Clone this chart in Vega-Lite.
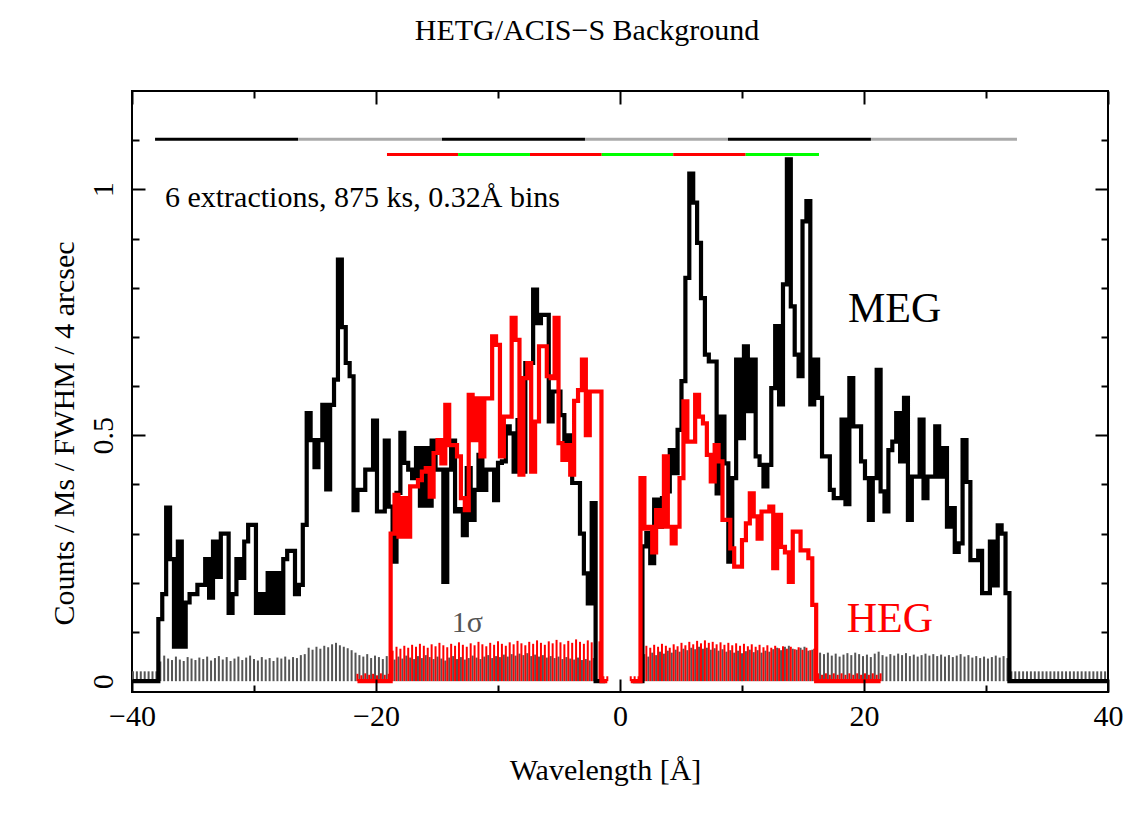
{
"$schema":"https://vega.github.io/schema/vega-lite/v6.json",
"width":976,"height":601,
"autosize":"none",
"padding":{"left":132,"top":91,"right":36,"bottom":128},
"background":"white",
"config":{"view":{"stroke":"black","strokeWidth":2},"font":"Liberation Serif"},
"title":{"text":"HETG/ACIS−S Background","font":"Liberation Serif","fontSize":30,"fontWeight":"normal","color":"black","anchor":"middle","frame":"group","dx":-33,"offset":20,"baseline":"alphabetic"},
"datasets":{
"meg":[
{"x":-39.92,"v":0,"s":0.02,"g":"L"},{"x":-39.6,"v":0,"s":0.02,"g":"L"},{"x":-39.28,"v":0,"s":0.02,"g":"L"},{"x":-38.96,"v":0,"s":0.02,"g":"L"},{"x":-38.64,"v":0,"s":0.02,"g":"L"},{"x":-38.32,"v":0,"s":0.02,"g":"L"},{"x":-38,"v":0,"s":0.02,"g":"L"},
{"x":-37.68,"v":0.126,"s":0.04,"g":"L"},{"x":-37.36,"v":0.177,"s":0.052,"g":"L"},{"x":-37.04,"v":0.353,"s":0.046,"g":"L"},{"x":-36.72,"v":0.248,"s":0.043,"g":"L"},{"x":-36.4,"v":0.07,"s":0.05,"g":"L"},{"x":-36.08,"v":0.284,"s":0.044,"g":"L"},{"x":-35.76,"v":0.07,"s":0.041,"g":"L"},{"x":-35.44,"v":0.16,"s":0.049,"g":"L"},{"x":-35.12,"v":0.177,"s":0.046,"g":"L"},{"x":-34.8,"v":0.177,"s":0.043,"g":"L"},
{"x":-34.48,"v":0.196,"s":0.048,"g":"L"},{"x":-34.16,"v":0.196,"s":0.045,"g":"L"},{"x":-33.84,"v":0.248,"s":0.05,"g":"L"},{"x":-33.52,"v":0.17,"s":0.042,"g":"L"},{"x":-33.2,"v":0.284,"s":0.047,"g":"L"},{"x":-32.88,"v":0.212,"s":0.051,"g":"L"},{"x":-32.56,"v":0.3,"s":0.044,"g":"L"},{"x":-32.24,"v":0.3,"s":0.049,"g":"L"},{"x":-31.92,"v":0.139,"s":0.041,"g":"L"},{"x":-31.6,"v":0.177,"s":0.046,"g":"L"},
{"x":-31.28,"v":0.248,"s":0.05,"g":"L"},{"x":-30.96,"v":0.21,"s":0.043,"g":"L"},{"x":-30.64,"v":0.284,"s":0.048,"g":"L"},{"x":-30.32,"v":0.318,"s":0.052,"g":"L"},{"x":-30,"v":0.318,"s":0.045,"g":"L"},{"x":-29.68,"v":0.139,"s":0.042,"g":"L"},{"x":-29.36,"v":0.177,"s":0.049,"g":"L"},{"x":-29.04,"v":0.139,"s":0.044,"g":"L"},{"x":-28.72,"v":0.22,"s":0.047,"g":"L"},{"x":-28.4,"v":0.139,"s":0.041,"g":"L"},
{"x":-28.08,"v":0.22,"s":0.048,"g":"L"},{"x":-27.76,"v":0.139,"s":0.046,"g":"L"},{"x":-27.44,"v":0.248,"s":0.05,"g":"L"},{"x":-27.12,"v":0.265,"s":0.044,"g":"L"},{"x":-26.8,"v":0.265,"s":0.049,"g":"L"},{"x":-26.48,"v":0.177,"s":0.047,"g":"L"},{"x":-26.16,"v":0.196,"s":0.053,"g":"L"},{"x":-25.84,"v":0.318,"s":0.055,"g":"L"},{"x":-25.52,"v":0.545,"s":0.068,"g":"L"},{"x":-25.2,"v":0.49,"s":0.064,"g":"L"},
{"x":-24.88,"v":0.435,"s":0.07,"g":"L"},{"x":-24.56,"v":0.49,"s":0.066,"g":"L"},{"x":-24.24,"v":0.562,"s":0.072,"g":"L"},{"x":-23.92,"v":0.39,"s":0.069,"g":"L"},{"x":-23.6,"v":0.562,"s":0.075,"g":"L"},{"x":-23.28,"v":0.613,"s":0.078,"g":"L"},{"x":-22.96,"v":0.857,"s":0.073,"g":"L"},{"x":-22.64,"v":0.72,"s":0.07,"g":"L"},{"x":-22.32,"v":0.647,"s":0.067,"g":"L"},{"x":-22,"v":0.62,"s":0.063,"g":"L"},
{"x":-21.68,"v":0.348,"s":0.058,"g":"L"},{"x":-21.36,"v":0.389,"s":0.053,"g":"L"},{"x":-21.04,"v":0.389,"s":0.05,"g":"L"},{"x":-20.72,"v":0.43,"s":0.055,"g":"L"},{"x":-20.4,"v":0.43,"s":0.047,"g":"L"},{"x":-20.08,"v":0.53,"s":0.052,"g":"L"},{"x":-19.76,"v":0.345,"s":0.049,"g":"L"},{"x":-19.44,"v":0.345,"s":0.045,"g":"L"},{"x":-19.12,"v":0.489,"s":0.051,"g":"L"},{"x":-18.8,"v":0.355,"s":0.048,"g":"L"},
{"x":-18.48,"v":0.243,"s":0.044,"g":"L"},{"x":-18.16,"v":0.383,"s":0.05,"g":"L"},{"x":-17.84,"v":0.505,"s":0.046,"g":"L"},{"x":-17.52,"v":0.444,"s":0.052,"g":"L"},{"x":-17.2,"v":0.43,"s":0.048,"g":"L"},{"x":-16.88,"v":0.413,"s":0.045,"g":"L"},{"x":-16.56,"v":0.474,"s":0.051,"g":"L"},{"x":-16.24,"v":0.357,"s":0.047,"g":"L"},{"x":-15.92,"v":0.474,"s":0.053,"g":"L"},{"x":-15.6,"v":0.357,"s":0.049,"g":"L"},
{"x":-15.28,"v":0.489,"s":0.045,"g":"L"},{"x":-14.96,"v":0.43,"s":0.05,"g":"L"},{"x":-14.64,"v":0.43,"s":0.046,"g":"L"},{"x":-14.32,"v":0.202,"s":0.042,"g":"L"},{"x":-14,"v":0.43,"s":0.048,"g":"L"},{"x":-13.68,"v":0.489,"s":0.051,"g":"L"},{"x":-13.36,"v":0.345,"s":0.045,"g":"L"},{"x":-13.04,"v":0.35,"s":0.049,"g":"L"},{"x":-12.72,"v":0.297,"s":0.044,"g":"L"},{"x":-12.4,"v":0.433,"s":0.047,"g":"L"},
{"x":-12.08,"v":0.328,"s":0.052,"g":"L"},{"x":-11.76,"v":0.389,"s":0.048,"g":"L"},{"x":-11.44,"v":0.46,"s":0.045,"g":"L"},{"x":-11.12,"v":0.389,"s":0.05,"g":"L"},{"x":-10.8,"v":0.43,"s":0.053,"g":"L"},{"x":-10.48,"v":0.43,"s":0.047,"g":"L"},{"x":-10.16,"v":0.368,"s":0.051,"g":"L"},{"x":-9.84,"v":0.444,"s":0.049,"g":"L"},{"x":-9.52,"v":0.447,"s":0.054,"g":"L"},{"x":-9.2,"v":0.518,"s":0.05,"g":"L"},
{"x":-8.88,"v":0.504,"s":0.055,"g":"L"},{"x":-8.56,"v":0.426,"s":0.052,"g":"L"},{"x":-8.24,"v":0.531,"s":0.056,"g":"L"},{"x":-7.92,"v":0.426,"s":0.053,"g":"L"},{"x":-7.6,"v":0.647,"s":0.057,"g":"L"},{"x":-7.28,"v":0.647,"s":0.051,"g":"L"},{"x":-6.96,"v":0.796,"s":0.054,"g":"L"},{"x":-6.64,"v":0.728,"s":0.05,"g":"L"},{"x":-6.32,"v":0.745,"s":0.053,"g":"L"},{"x":-6,"v":0.745,"s":0.048,"g":"L"},
{"x":-5.68,"v":0.528,"s":0.051,"g":"L"},{"x":-5.36,"v":0.589,"s":0.047,"g":"L"},{"x":-5.04,"v":0.589,"s":0.05,"g":"L"},{"x":-4.72,"v":0.541,"s":0.045,"g":"L"},{"x":-4.4,"v":0.484,"s":0.049,"g":"L"},{"x":-4.08,"v":0.5,"s":0.046,"g":"L"},{"x":-3.76,"v":0.403,"s":0.044,"g":"L"},{"x":-3.44,"v":0.403,"s":0.048,"g":"L"},{"x":-3.12,"v":0.3,"s":0.043,"g":"L"},{"x":-2.8,"v":0.219,"s":0.045,"g":"L"},
{"x":-2.48,"v":0.158,"s":0.042,"g":"L"},{"x":-2.16,"v":0.362,"s":0.047,"g":"L"},
{"x":-1.84,"v":0,"s":0,"g":"L"},{"x":-1.52,"v":0,"s":0,"g":"L"},{"x":-1.2,"v":0,"s":0,"g":"L"},
{"x":1.04,"v":0,"s":0,"g":"R"},{"x":1.36,"v":0,"s":0,"g":"R"},{"x":1.68,"v":0,"s":0,"g":"R"},
{"x":2,"v":0.274,"s":0.055,"g":"R"},{"x":2.32,"v":0.301,"s":0.05,"g":"R"},{"x":2.64,"v":0.24,"s":0.058,"g":"R"},{"x":2.96,"v":0.369,"s":0.053,"g":"R"},{"x":3.28,"v":0.314,"s":0.06,"g":"R"},{"x":3.6,"v":0.372,"s":0.056,"g":"R"},{"x":3.92,"v":0.386,"s":0.062,"g":"R"},{"x":4.24,"v":0.47,"s":0.058,"g":"R"},{"x":4.56,"v":0.423,"s":0.064,"g":"R"},{"x":4.88,"v":0.511,"s":0.06,"g":"R"},
{"x":5.2,"v":0.61,"s":0.066,"g":"R"},{"x":5.52,"v":0.82,"s":0.063,"g":"R"},{"x":5.84,"v":1.032,"s":0.068,"g":"R"},{"x":6.16,"v":0.973,"s":0.065,"g":"R"},{"x":6.48,"v":0.891,"s":0.07,"g":"R"},{"x":6.8,"v":0.779,"s":0.066,"g":"R"},{"x":7.12,"v":0.664,"s":0.068,"g":"R"},{"x":7.44,"v":0.65,"s":0.064,"g":"R"},{"x":7.76,"v":0.65,"s":0.067,"g":"R"},{"x":8.08,"v":0.382,"s":0.062,"g":"R"},
{"x":8.4,"v":0.538,"s":0.065,"g":"R"},{"x":8.72,"v":0.443,"s":0.06,"g":"R"},{"x":9.04,"v":0.243,"s":0.063,"g":"R"},{"x":9.36,"v":0.413,"s":0.058,"g":"R"},{"x":9.68,"v":0.654,"s":0.062,"g":"R"},{"x":10,"v":0.494,"s":0.057,"g":"R"},{"x":10.32,"v":0.681,"s":0.061,"g":"R"},{"x":10.64,"v":0.549,"s":0.064,"g":"R"},{"x":10.96,"v":0.654,"s":0.059,"g":"R"},{"x":11.28,"v":0.457,"s":0.063,"g":"R"},
{"x":11.6,"v":0.44,"s":0.058,"g":"R"},{"x":11.92,"v":0.396,"s":0.062,"g":"R"},{"x":12.24,"v":0.44,"s":0.06,"g":"R"},{"x":12.56,"v":0.596,"s":0.065,"g":"R"},{"x":12.88,"v":0.722,"s":0.068,"g":"R"},{"x":13.2,"v":0.563,"s":0.063,"g":"R"},{"x":13.52,"v":0.807,"s":0.07,"g":"R"},{"x":13.84,"v":1.061,"s":0.072,"g":"R"},{"x":14.16,"v":0.762,"s":0.066,"g":"R"},{"x":14.48,"v":0.664,"s":0.064,"g":"R"},
{"x":14.8,"v":0.62,"s":0.068,"g":"R"},{"x":15.12,"v":0.935,"s":0.07,"g":"R"},{"x":15.44,"v":0.976,"s":0.062,"g":"R"},{"x":15.76,"v":0.563,"s":0.064,"g":"R"},{"x":16.08,"v":0.654,"s":0.06,"g":"R"},{"x":16.4,"v":0.576,"s":0.058,"g":"R"},{"x":16.72,"v":0.457,"s":0.055,"g":"R"},{"x":17.04,"v":0.457,"s":0.058,"g":"R"},{"x":17.36,"v":0.389,"s":0.052,"g":"R"},{"x":17.68,"v":0.372,"s":0.056,"g":"R"},
{"x":18,"v":0.372,"s":0.05,"g":"R"},{"x":18.32,"v":0.532,"s":0.054,"g":"R"},{"x":18.64,"v":0.36,"s":0.057,"g":"R"},{"x":18.96,"v":0.616,"s":0.053,"g":"R"},{"x":19.28,"v":0.518,"s":0.058,"g":"R"},{"x":19.6,"v":0.518,"s":0.055,"g":"R"},{"x":19.92,"v":0.447,"s":0.051,"g":"R"},{"x":20.24,"v":0.413,"s":0.054,"g":"R"},{"x":20.56,"v":0.328,"s":0.049,"g":"R"},{"x":20.88,"v":0.413,"s":0.056,"g":"R"},
{"x":21.2,"v":0.633,"s":0.06,"g":"R"},{"x":21.52,"v":0.386,"s":0.053,"g":"R"},{"x":21.84,"v":0.345,"s":0.05,"g":"R"},{"x":22.16,"v":0.47,"s":0.055,"g":"R"},{"x":22.48,"v":0.487,"s":0.052,"g":"R"},{"x":22.8,"v":0.545,"s":0.056,"g":"R"},{"x":23.12,"v":0.447,"s":0.053,"g":"R"},{"x":23.44,"v":0.576,"s":0.057,"g":"R"},{"x":23.76,"v":0.328,"s":0.051,"g":"R"},{"x":24.08,"v":0.416,"s":0.054,"g":"R"},
{"x":24.4,"v":0.416,"s":0.05,"g":"R"},{"x":24.72,"v":0.532,"s":0.053,"g":"R"},{"x":25.04,"v":0.372,"s":0.056,"g":"R"},{"x":25.36,"v":0.416,"s":0.052,"g":"R"},{"x":25.68,"v":0.416,"s":0.055,"g":"R"},{"x":26,"v":0.518,"s":0.051,"g":"R"},{"x":26.32,"v":0.416,"s":0.054,"g":"R"},{"x":26.64,"v":0.474,"s":0.05,"g":"R"},{"x":26.96,"v":0.314,"s":0.053,"g":"R"},{"x":27.28,"v":0.352,"s":0.049,"g":"R"},
{"x":27.6,"v":0.263,"s":0.052,"g":"R"},{"x":27.92,"v":0.28,"s":0.055,"g":"R"},{"x":28.24,"v":0.49,"s":0.05,"g":"R"},{"x":28.56,"v":0.405,"s":0.053,"g":"R"},{"x":28.88,"v":0.246,"s":0.048,"g":"R"},{"x":29.2,"v":0.246,"s":0.051,"g":"R"},{"x":29.52,"v":0.265,"s":0.047,"g":"R"},{"x":29.84,"v":0.179,"s":0.05,"g":"R"},{"x":30.16,"v":0.179,"s":0.046,"g":"R"},{"x":30.48,"v":0.284,"s":0.049,"g":"R"},
{"x":30.8,"v":0.195,"s":0.052,"g":"R"},{"x":31.12,"v":0.317,"s":0.048,"g":"R"},{"x":31.44,"v":0.3,"s":0.051,"g":"R"},{"x":31.76,"v":0.179,"s":0.047,"g":"R"},
{"x":32.08,"v":0,"s":0.02,"g":"R"},{"x":32.4,"v":0,"s":0.02,"g":"R"},{"x":32.72,"v":0,"s":0.02,"g":"R"},{"x":33.04,"v":0,"s":0.02,"g":"R"},{"x":33.36,"v":0,"s":0.02,"g":"R"},{"x":33.68,"v":0,"s":0.02,"g":"R"},{"x":34,"v":0,"s":0.02,"g":"R"},{"x":34.32,"v":0,"s":0.02,"g":"R"},{"x":34.64,"v":0,"s":0.02,"g":"R"},{"x":34.96,"v":0,"s":0.02,"g":"R"},{"x":35.28,"v":0,"s":0.02,"g":"R"},{"x":35.6,"v":0,"s":0.02,"g":"R"},{"x":35.92,"v":0,"s":0.02,"g":"R"},
{"x":36.24,"v":0,"s":0.02,"g":"R"},{"x":36.56,"v":0,"s":0.02,"g":"R"},{"x":36.88,"v":0,"s":0.02,"g":"R"},{"x":37.2,"v":0,"s":0.02,"g":"R"},{"x":37.52,"v":0,"s":0.02,"g":"R"},{"x":37.84,"v":0,"s":0.02,"g":"R"},{"x":38.16,"v":0,"s":0.02,"g":"R"},{"x":38.48,"v":0,"s":0.02,"g":"R"},{"x":38.8,"v":0,"s":0.02,"g":"R"},{"x":39.12,"v":0,"s":0.02,"g":"R"},{"x":39.44,"v":0,"s":0.02,"g":"R"},{"x":39.76,"v":0,"s":0.02,"g":"R"},{"x":40.08,"v":0,"s":0.02,"g":"R"}
],
"heg":[
{"x":-21.52,"v":0,"s":0.015,"g":"L"},{"x":-21.2,"v":0,"s":0.012,"g":"L"},{"x":-20.88,"v":0,"s":0.016,"g":"L"},{"x":-20.56,"v":0,"s":0.013,"g":"L"},{"x":-20.24,"v":0,"s":0.015,"g":"L"},{"x":-19.92,"v":0,"s":0.012,"g":"L"},{"x":-19.6,"v":0,"s":0.016,"g":"L"},{"x":-19.28,"v":0,"s":0.013,"g":"L"},{"x":-18.96,"v":0,"s":0.015,"g":"L"},
{"x":-18.64,"v":0.3,"s":0.062,"g":"L"},{"x":-18.32,"v":0.379,"s":0.07,"g":"L"},{"x":-18,"v":0.294,"s":0.066,"g":"L"},{"x":-17.68,"v":0.372,"s":0.072,"g":"L"},{"x":-17.36,"v":0.294,"s":0.068,"g":"L"},{"x":-17.04,"v":0.396,"s":0.074,"g":"L"},{"x":-16.72,"v":0.396,"s":0.07,"g":"L"},{"x":-16.4,"v":0.409,"s":0.076,"g":"L"},{"x":-16.08,"v":0.426,"s":0.072,"g":"L"},{"x":-15.76,"v":0.433,"s":0.068,"g":"L"},
{"x":-15.44,"v":0.375,"s":0.075,"g":"L"},{"x":-15.12,"v":0.464,"s":0.071,"g":"L"},{"x":-14.8,"v":0.49,"s":0.078,"g":"L"},{"x":-14.48,"v":0.443,"s":0.073,"g":"L"},{"x":-14.16,"v":0.562,"s":0.069,"g":"L"},{"x":-13.84,"v":0.48,"s":0.076,"g":"L"},{"x":-13.52,"v":0.48,"s":0.072,"g":"L"},{"x":-13.2,"v":0.457,"s":0.079,"g":"L"},{"x":-12.88,"v":0.372,"s":0.074,"g":"L"},{"x":-12.56,"v":0.348,"s":0.07,"g":"L"},
{"x":-12.24,"v":0.582,"s":0.077,"g":"L"},{"x":-11.92,"v":0.49,"s":0.073,"g":"L"},{"x":-11.6,"v":0.575,"s":0.08,"g":"L"},{"x":-11.28,"v":0.457,"s":0.075,"g":"L"},{"x":-10.96,"v":0.575,"s":0.071,"g":"L"},{"x":-10.64,"v":0.575,"s":0.078,"g":"L"},{"x":-10.32,"v":0.701,"s":0.074,"g":"L"},{"x":-10,"v":0.684,"s":0.081,"g":"L"},{"x":-9.68,"v":0.457,"s":0.076,"g":"L"},{"x":-9.36,"v":0.538,"s":0.072,"g":"L"},
{"x":-9.04,"v":0.538,"s":0.079,"g":"L"},{"x":-8.72,"v":0.739,"s":0.075,"g":"L"},{"x":-8.4,"v":0.694,"s":0.082,"g":"L"},{"x":-8.08,"v":0.42,"s":0.077,"g":"L"},{"x":-7.76,"v":0.616,"s":0.073,"g":"L"},{"x":-7.44,"v":0.647,"s":0.08,"g":"L"},{"x":-7.12,"v":0.426,"s":0.076,"g":"L"},{"x":-6.8,"v":0.528,"s":0.083,"g":"L"},{"x":-6.48,"v":0.681,"s":0.078,"g":"L"},{"x":-6.16,"v":0.681,"s":0.074,"g":"L"},
{"x":-5.84,"v":0.62,"s":0.081,"g":"L"},{"x":-5.52,"v":0.616,"s":0.077,"g":"L"},{"x":-5.2,"v":0.739,"s":0.084,"g":"L"},{"x":-4.88,"v":0.484,"s":0.079,"g":"L"},{"x":-4.56,"v":0.45,"s":0.075,"g":"L"},{"x":-4.24,"v":0.48,"s":0.082,"g":"L"},{"x":-3.92,"v":0.42,"s":0.078,"g":"L"},{"x":-3.6,"v":0.57,"s":0.085,"g":"L"},{"x":-3.28,"v":0.592,"s":0.08,"g":"L"},{"x":-2.96,"v":0.654,"s":0.076,"g":"L"},
{"x":-2.64,"v":0.5,"s":0.083,"g":"L"},{"x":-2.32,"v":0.589,"s":0.079,"g":"L"},{"x":-2,"v":0.589,"s":0.075,"g":"L"},{"x":-1.68,"v":0.589,"s":0.081,"g":"L"},
{"x":-1.36,"v":0,"s":0.01,"g":"L"},{"x":-1.04,"v":0,"s":0.01,"g":"L"},
{"x":0.88,"v":0,"s":0.01,"g":"R"},{"x":1.2,"v":0,"s":0.01,"g":"R"},{"x":1.52,"v":0,"s":0.01,"g":"R"},
{"x":1.84,"v":0.413,"s":0.066,"g":"R"},{"x":2.16,"v":0.31,"s":0.072,"g":"R"},{"x":2.48,"v":0.314,"s":0.068,"g":"R"},{"x":2.8,"v":0.262,"s":0.074,"g":"R"},{"x":3.12,"v":0.348,"s":0.07,"g":"R"},{"x":3.44,"v":0.314,"s":0.076,"g":"R"},{"x":3.76,"v":0.457,"s":0.072,"g":"R"},{"x":4.08,"v":0.314,"s":0.068,"g":"R"},{"x":4.4,"v":0.28,"s":0.075,"g":"R"},{"x":4.72,"v":0.314,"s":0.071,"g":"R"},
{"x":5.04,"v":0.413,"s":0.078,"g":"R"},{"x":5.36,"v":0.569,"s":0.073,"g":"R"},{"x":5.68,"v":0.487,"s":0.08,"g":"R"},{"x":6,"v":0.487,"s":0.075,"g":"R"},{"x":6.32,"v":0.582,"s":0.082,"g":"R"},{"x":6.64,"v":0.538,"s":0.077,"g":"R"},{"x":6.96,"v":0.524,"s":0.083,"g":"R"},{"x":7.28,"v":0.46,"s":0.078,"g":"R"},{"x":7.6,"v":0.406,"s":0.08,"g":"R"},{"x":7.92,"v":0.48,"s":0.075,"g":"R"},
{"x":8.24,"v":0.447,"s":0.079,"g":"R"},{"x":8.56,"v":0.328,"s":0.074,"g":"R"},{"x":8.88,"v":0.328,"s":0.078,"g":"R"},{"x":9.2,"v":0.27,"s":0.073,"g":"R"},{"x":9.52,"v":0.233,"s":0.077,"g":"R"},{"x":9.84,"v":0.233,"s":0.072,"g":"R"},{"x":10.16,"v":0.287,"s":0.076,"g":"R"},{"x":10.48,"v":0.321,"s":0.071,"g":"R"},{"x":10.8,"v":0.382,"s":0.075,"g":"R"},{"x":11.12,"v":0.335,"s":0.07,"g":"R"},
{"x":11.44,"v":0.29,"s":0.074,"g":"R"},{"x":11.76,"v":0.345,"s":0.069,"g":"R"},{"x":12.08,"v":0.345,"s":0.073,"g":"R"},{"x":12.4,"v":0.355,"s":0.068,"g":"R"},{"x":12.72,"v":0.23,"s":0.072,"g":"R"},{"x":13.04,"v":0.338,"s":0.067,"g":"R"},{"x":13.36,"v":0.273,"s":0.071,"g":"R"},{"x":13.68,"v":0.262,"s":0.066,"g":"R"},{"x":14,"v":0.202,"s":0.07,"g":"R"},{"x":14.32,"v":0.304,"s":0.065,"g":"R"},
{"x":14.64,"v":0.304,"s":0.069,"g":"R"},{"x":14.96,"v":0.266,"s":0.064,"g":"R"},{"x":15.28,"v":0.266,"s":0.068,"g":"R"},{"x":15.6,"v":0.25,"s":0.063,"g":"R"},{"x":15.92,"v":0.155,"s":0.066,"g":"R"},
{"x":16.24,"v":0,"s":0.016,"g":"R"},{"x":16.56,"v":0,"s":0.013,"g":"R"},{"x":16.88,"v":0,"s":0.016,"g":"R"},{"x":17.2,"v":0,"s":0.013,"g":"R"},{"x":17.52,"v":0,"s":0.016,"g":"R"},{"x":17.84,"v":0,"s":0.013,"g":"R"},{"x":18.16,"v":0,"s":0.016,"g":"R"},{"x":18.48,"v":0,"s":0.013,"g":"R"},{"x":18.8,"v":0,"s":0.016,"g":"R"},{"x":19.12,"v":0,"s":0.013,"g":"R"},{"x":19.44,"v":0,"s":0.016,"g":"R"},{"x":19.76,"v":0,"s":0.013,"g":"R"},{"x":20.08,"v":0,"s":0.016,"g":"R"},{"x":20.4,"v":0,"s":0.013,"g":"R"},{"x":20.72,"v":0,"s":0.016,"g":"R"},{"x":21.04,"v":0,"s":0.013,"g":"R"},{"x":21.36,"v":0,"s":0.016,"g":"R"}
],
"chips":[
{"a":-38.11,"b":-26.39,"k":"b"},{"a":-26.39,"b":-14.59,"k":"l"},{"a":-14.59,"b":-2.87,"k":"b"},{"a":-2.87,"b":8.85,"k":"l"},{"a":8.85,"b":20.57,"k":"b"},{"a":20.57,"b":32.54,"k":"l"},
{"a":-19.1,"b":-13.27,"k":"r"},{"a":-13.27,"b":-7.38,"k":"g"},{"a":-7.38,"b":-1.5,"k":"r"},{"a":-1.5,"b":4.36,"k":"g"},{"a":4.36,"b":10.3,"k":"r"},{"a":10.3,"b":16.31,"k":"g"}
]
},
"layer":[
{"data":{"name":"meg"},
 "mark":{"type":"rule","color":"#555555","strokeWidth":2,"clip":true},
 "encoding":{
  "x":{"field":"x","type":"quantitative","scale":{"domain":[-40,40],"nice":false,"zero":false},
   "axis":{"orient":"bottom","values":[-40,-20,0,20,40],"ticks":false,"tickSize":0,"domain":false,"grid":false,"format":"~r","labelFont":"Liberation Serif","labelFontSize":30,"labelColor":"black","labelPadding":33,"labelBaseline":"alphabetic","labelAlign":"center","labelFlush":false,"labelOverlap":false,
    "title":"Wavelength [Å]","titleFont":"Liberation Serif","titleFontSize":30,"titleFontWeight":"normal","titleColor":"black","titleX":473,"titleY":87,"titleAlign":"center","titleBaseline":"alphabetic"}},
  "y":{"field":"s","type":"quantitative","scale":{"domain":[-0.022,1.2],"nice":false,"zero":false},
   "axis":{"orient":"left","values":[0,0.5,1],"ticks":false,"tickSize":0,"domain":false,"grid":false,"format":"~r","labelFont":"Liberation Serif","labelFontSize":30,"labelColor":"black","labelPadding":20,"labelAngle":270,"labelAlign":"center","labelBaseline":"alphabetic","labelFlush":false,"labelOverlap":false,
    "title":"Counts / Ms / FWHM / 4 arcsec","titleFont":"Liberation Serif","titleFontSize":30,"titleFontWeight":"normal","titleColor":"black","titleAngle":270,"titleX":-59,"titleY":342,"titleAlign":"center","titleBaseline":"alphabetic"}},
  "y2":{"datum":0}}},
{"data":{"name":"heg"},
 "mark":{"type":"rule","color":"#ff0000","strokeWidth":2,"clip":true},
 "encoding":{
  "x":{"field":"x","type":"quantitative","scale":{"domain":[-40,40],"nice":false,"zero":false},
   "axis":{"orient":"bottom","values":[-40,-20,0,20,40],"ticks":true,"tickSize":-13,"tickWidth":2,"tickColor":"black","labels":false,"domain":false,"grid":false,"title":null,"zindex":2}},
  "y":{"field":"s","type":"quantitative","scale":{"domain":[-0.022,1.2],"nice":false,"zero":false},
   "axis":{"orient":"left","values":[0,0.5,1],"ticks":true,"tickSize":-13,"tickWidth":2,"tickColor":"black","labels":false,"domain":false,"grid":false,"title":null,"zindex":2}},
  "y2":{"datum":0}}},
{"data":{"name":"meg"},
 "mark":{"type":"line","color":"black","strokeWidth":4.2,"interpolate":"step","strokeJoin":"miter","clip":true},
 "encoding":{
  "x":{"field":"x","type":"quantitative","scale":{"domain":[-40,40],"nice":false,"zero":false},
   "axis":{"orient":"bottom","values":[-30,-10,10,30],"ticks":true,"tickSize":-7,"tickWidth":2,"tickColor":"black","labels":false,"domain":false,"grid":false,"title":null,"zindex":2}},
  "y":{"field":"v","type":"quantitative","scale":{"domain":[-0.022,1.2],"nice":false,"zero":false},
   "axis":{"orient":"left","values":[0.1,0.2,0.3,0.4,0.6,0.7,0.8,0.9,1.1],"ticks":true,"tickSize":-7,"tickWidth":2,"tickColor":"black","labels":false,"domain":false,"grid":false,"title":null,"zindex":2}},
  "detail":{"field":"g"}}},
{"data":{"name":"heg"},
 "mark":{"type":"line","color":"#ff0000","strokeWidth":4.2,"interpolate":"step","strokeJoin":"miter","clip":true},
 "encoding":{
  "x":{"field":"x","type":"quantitative","scale":{"domain":[-40,40],"nice":false,"zero":false},
   "axis":{"orient":"top","values":[-40,-20,0,20,40],"ticks":true,"tickSize":-13,"tickWidth":2,"tickColor":"black","labels":false,"domain":false,"grid":false,"title":null,"zindex":2}},
  "y":{"field":"v","type":"quantitative","scale":{"domain":[-0.022,1.2],"nice":false,"zero":false},
   "axis":{"orient":"right","values":[0,0.5,1],"ticks":true,"tickSize":-13,"tickWidth":2,"tickColor":"black","labels":false,"domain":false,"grid":false,"title":null,"zindex":2}},
  "detail":{"field":"g"}}},
{"data":{"name":"chips"},
 "transform":[{"filter":"datum.k == 'b' || datum.k == 'l'"}],
 "mark":{"type":"rule","strokeWidth":3},
 "encoding":{
  "x":{"field":"a","type":"quantitative","scale":{"domain":[-40,40],"nice":false,"zero":false},
   "axis":{"orient":"top","values":[-30,-10,10,30],"ticks":true,"tickSize":-7,"tickWidth":2,"tickColor":"black","labels":false,"domain":false,"grid":false,"title":null,"zindex":2}},
  "x2":{"field":"b"},
  "y":{"datum":1.102,"type":"quantitative","scale":{"domain":[-0.022,1.2],"nice":false,"zero":false},
   "axis":{"orient":"right","values":[0.1,0.2,0.3,0.4,0.6,0.7,0.8,0.9,1.1],"ticks":true,"tickSize":-7,"tickWidth":2,"tickColor":"black","labels":false,"domain":false,"grid":false,"title":null,"zindex":2}},
  "color":{"field":"k","type":"nominal","scale":{"domain":["b","l","r","g"],"range":["black","#aaaaaa","#ff0000","#00ff00"]},"legend":null}}},
{"data":{"name":"chips"},
 "transform":[{"filter":"datum.k == 'r' || datum.k == 'g'"}],
 "mark":{"type":"rule","strokeWidth":3},
 "encoding":{
  "x":{"field":"a","type":"quantitative","axis":null},
  "x2":{"field":"b"},
  "y":{"datum":1.071,"type":"quantitative","axis":null},
  "color":{"field":"k","type":"nominal","scale":{"domain":["b","l","r","g"],"range":["black","#aaaaaa","#ff0000","#00ff00"]},"legend":null}}},
{"data":{"values":[{}]},
 "mark":{"type":"text","text":"6 extractions, 875 ks, 0.32Å bins","align":"left","baseline":"alphabetic","font":"Liberation Serif","fontSize":30,"color":"black"},
 "encoding":{"x":{"datum":-37.3,"type":"quantitative","axis":null},"y":{"datum":0.965,"type":"quantitative","axis":null}}},
{"data":{"values":[{}]},
 "mark":{"type":"text","text":"MEG","align":"left","baseline":"alphabetic","font":"Liberation Serif","fontSize":42,"color":"black"},
 "encoding":{"x":{"datum":18.69,"type":"quantitative","axis":null},"y":{"datum":0.731,"type":"quantitative","axis":null}}},
{"data":{"values":[{}]},
 "mark":{"type":"text","text":"HEG","align":"left","baseline":"alphabetic","font":"Liberation Serif","fontSize":42,"color":"#ff0000"},
 "encoding":{"x":{"datum":18.58,"type":"quantitative","axis":null},"y":{"datum":0.1,"type":"quantitative","axis":null}}},
{"data":{"values":[{}]},
 "mark":{"type":"text","text":"1σ","align":"left","baseline":"alphabetic","font":"Liberation Serif","fontSize":30,"color":"#555555"},
 "encoding":{"x":{"datum":-13.8,"type":"quantitative","axis":null},"y":{"datum":0.1,"type":"quantitative","axis":null}}}
],
"resolve":{"axis":{"x":"independent","y":"independent"}}
}
